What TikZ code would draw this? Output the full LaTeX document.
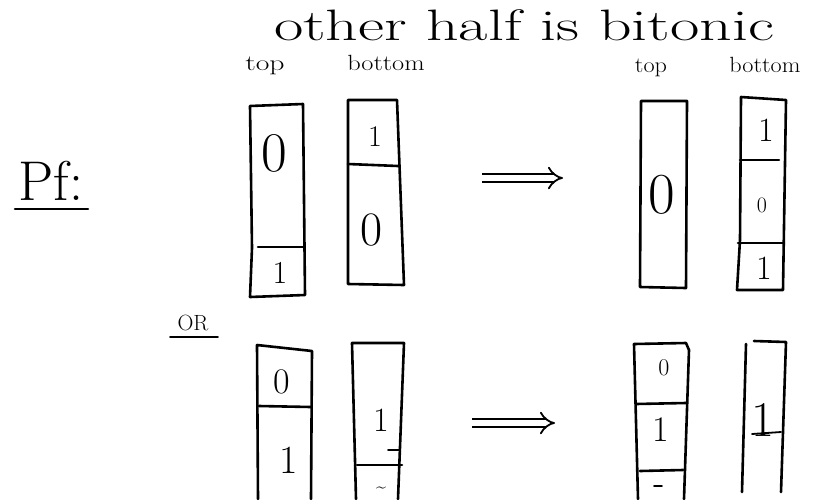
\documentclass[tikz,border=0pt]{standalone}
\usetikzlibrary{arrows.meta}
\begin{document}
\begin{tikzpicture}[x=1pt,y=-1pt,
  pen/.style={line width=2.6pt,line cap=round,line join=round},
  thin pen/.style={line width=1.8pt,line cap=round},
  dig/.style={font=\fontsize{#1}{#1}\selectfont,inner sep=0pt,anchor=center},
  lbl/.style={font=\fontsize{#1}{#1}\selectfont,inner sep=0pt,anchor=base},
  implies/.style={line width=1.8pt,double,double distance=6pt,-{Implies[]}}]
\useasboundingbox (0,0) rectangle (838,499);
% title and headings
\node[lbl=44] (title) at (524,40) {\scalebox{1.45}[1]{other half is bitonic}};
\node[lbl=22] (top1) at (265,70) {\scalebox{1.35}[1]{top}};
\node[lbl=22] (bot1) at (386,70) {\scalebox{1.2}[1]{bottom}};
\node[lbl=22] (top2) at (651,72) {\scalebox{1.1}[1]{top}};
\node[lbl=22] (bot2) at (765,72) {\scalebox{1.1}[1]{bottom}};
\node[lbl=56] (pf) at (51,200) {Pf:};
\draw[pen] (15,209) -- (88,209);
\node[lbl=22] (or) at (193,330) {OR};
\draw[thin pen] (170,337) -- (218,337);
% ---- upper left: top column
\draw[pen] (250,106) -- (303,104) -- (305,295) -- (250,297) -- (252,248) -- cycle;
\draw[pen] (258,247) -- (303,247);
\node[dig=56] (u0) at (274,153) {0};
\node[dig=32] (u1) at (280,273) {1};
% upper left: bottom column
\draw[pen] (348,100) -- (397,100) -- (404,285) -- (348,284) -- cycle;
\draw[pen] (348,164) -- (398,166);
\node[dig=30] (u2) at (375,137) {1};
\node[dig=48] (u3) at (372,230) {0};
% arrow upper
\coordinate (a1s) at (482,178);
\coordinate (a1e) at (563,178);
\draw[implies] (a1s) -- (a1e);
% upper right: top column
\draw[pen] (641,101) -- (687,101) -- (686,288) -- (640,287) -- cycle;
\node[dig=58] (r0) at (662,195) {0};
% upper right: bottom column
\draw[pen] (741,97) -- (786,100) -- (783,290) -- (737,290) -- (740,240) -- cycle;
\draw[pen] (740,160) -- (779,160);
\draw[pen] (738,243) -- (784,243);
\node[dig=34] (r1) at (766,130) {1};
\node[dig=22] (r2) at (762,205) {0};
\node[dig=34] (r3) at (764,268) {1};
% ---- lower left: top column
\draw[pen] (258,499) -- (257,345) -- (312,351) -- (311,499);
\draw[pen] (259,406) -- (311,407);
\node[dig=36] (l0) at (282,382) {0};
\node[dig=40] (l1) at (289,460) {1};
% lower left: bottom column
\draw[pen] (356,499) -- (352,343) -- (404,343) -- (398,499);
\draw[thin pen] (388,450) -- (400,450);
\draw[pen] (357,465) -- (402,465);
\node[dig=34] (l2) at (381,420) {1};
\node[dig=18] (l3) at (381,490) {\~{}};
% arrow lower
\coordinate (a2s) at (472,423);
\coordinate (a2e) at (555,423);
\draw[implies] (a2s) -- (a2e);
% lower right: top column
\draw[pen] (638,499) -- (634,344) -- (686,343) -- (689,350) -- (684,499);
\draw[pen] (636,404) -- (686,403);
\draw[pen] (640,471) -- (683,470);
\node[dig=24] (q0) at (664,368) {0};
\node[dig=36] (q1) at (661,430) {1};
\draw[thin pen] (654,486) -- (662,486);
% lower right: bottom column
\draw[pen] (742,492) -- (746,344);
\draw[pen] (754,341) -- (786,342) -- (781,492);
\draw[thin pen] (752,434) -- (781,432);
\node[dig=50] (q2) at (763,420) {1};
\end{tikzpicture}
\end{document}
